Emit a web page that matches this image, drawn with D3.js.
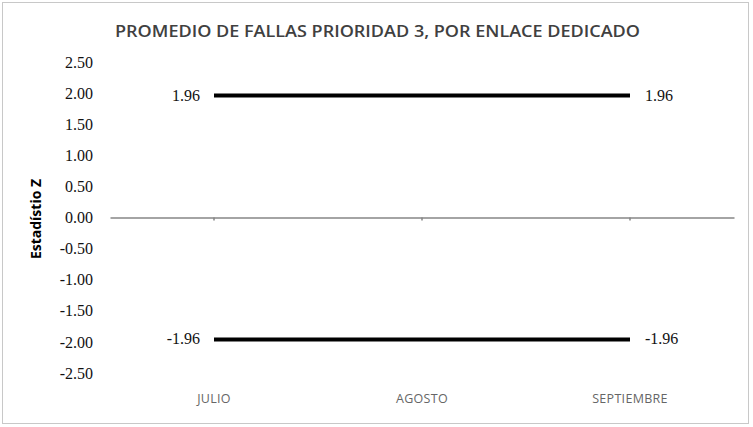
<!DOCTYPE html>
<html>
<head>
<meta charset="utf-8">
<script src="https://cdn.jsdelivr.net/npm/d3@7"></script>
<style>
  body { margin: 0; background: #fff; }
</style>
</head>
<body>
<script>
  // data
  var months = ["JULIO", "AGOSTO", "SEPTIEMBRE"];
  var upperLimit = [1.96, 1.96, 1.96];
  var lowerLimit = [-1.96, -1.96, -1.96];
  var yTicks = [2.5, 2.0, 1.5, 1.0, 0.5, 0.0, -0.5, -1.0, -1.5, -2.0, -2.5];

  var width = 753,
      height = 427;

  // excel style numbers, plain hyphen for negatives
  function fmt(v) { return v.toFixed(2); }

  var svg = d3.select("body").append("svg")
    .attr("width", width)
    .attr("height", height);

  // chart border
  svg.append("rect")
    .attr("x", 2.5).attr("y", 2.5)
    .attr("width", 746).attr("height", 421)
    .attr("fill", "#fff")
    .attr("stroke", "#c8c8c8")
    .attr("stroke-width", 1);

  var x = d3.scaleBand()
    .domain(months)
    .range([110, 734]);

  var y = d3.scaleLinear()
    .domain([-2.5, 2.5])
    .range([373, 62]);

  // title
  svg.append("text")
    .attr("x", 377.5)
    .attr("y", 37)
    .attr("text-anchor", "middle")
    .attr("textLength", 525)
    .attr("lengthAdjust", "spacingAndGlyphs")
    .style("font-family", "'Open Sans', sans-serif")
    .style("font-size", "17px")
    .style("font-weight", "600")
    .style("fill", "#404040")
    .text("PROMEDIO DE FALLAS PRIORIDAD 3, POR ENLACE DEDICADO");

  // y axis (labels only)
  var yAxis = d3.axisLeft(y)
    .tickValues(yTicks)
    .tickSize(0)
    .tickPadding(0)
    .tickFormat(fmt);

  var gy = svg.append("g")
    .attr("transform", "translate(93,0)")
    .call(yAxis);
  gy.select(".domain").remove();
  gy.selectAll("text")
    .style("font-family", "'Liberation Serif', serif")
    .style("font-size", "16px")
    .style("fill", "#111");

  // y axis title
  svg.append("text")
    .attr("transform", "translate(41,219) rotate(-90)")
    .attr("text-anchor", "middle")
    .style("font-family", "'Open Sans', sans-serif")
    .style("font-size", "14px")
    .style("font-weight", "bold")
    .style("fill", "#000")
    .text("Estadístio Z");

  // zero line with category ticks
  var xAxis = d3.axisBottom(x)
    .tickSize(3)
    .tickSizeOuter(0)
    .tickFormat("");

  var gx = svg.append("g")
    .attr("transform", "translate(0," + y(0) + ")")
    .call(xAxis);
  gx.selectAll("path, line")
    .attr("stroke", "#868686")
    .attr("stroke-width", 1.5);

  // category labels
  svg.selectAll(".month")
    .data(months)
    .enter().append("text")
    .attr("class", "month")
    .attr("x", function(d) { return x(d) + x.bandwidth() / 2; })
    .attr("y", 403)
    .attr("text-anchor", "middle")
    .style("font-family", "'Open Sans', sans-serif")
    .style("font-size", "12.5px")
    .style("letter-spacing", "0.3px")
    .style("fill", "#666")
    .text(function(d) { return d; });

  // limit lines
  var line = d3.line()
    .x(function(d, i) { return x(months[i]) + x.bandwidth() / 2; })
    .y(function(d) { return y(d); });

  [upperLimit, lowerLimit].forEach(function(series) {
    svg.append("path")
      .datum(series)
      .attr("d", line)
      .attr("fill", "none")
      .attr("stroke", "#000")
      .attr("stroke-width", 4);

    // labels on first and last points
    var ends = [0, series.length - 1];
    ends.forEach(function(i) {
      var px = x(months[i]) + x.bandwidth() / 2;
      svg.append("text")
        .attr("x", i == 0 ? px - 14 : px + 15)
        .attr("y", y(series[i]) + 5)
        .attr("text-anchor", i == 0 ? "end" : "start")
        .style("font-family", "'Liberation Serif', serif")
        .style("font-size", "16px")
        .style("fill", "#111")
        .text(fmt(series[i]));
    });
  });
</script>
</body>
</html>
